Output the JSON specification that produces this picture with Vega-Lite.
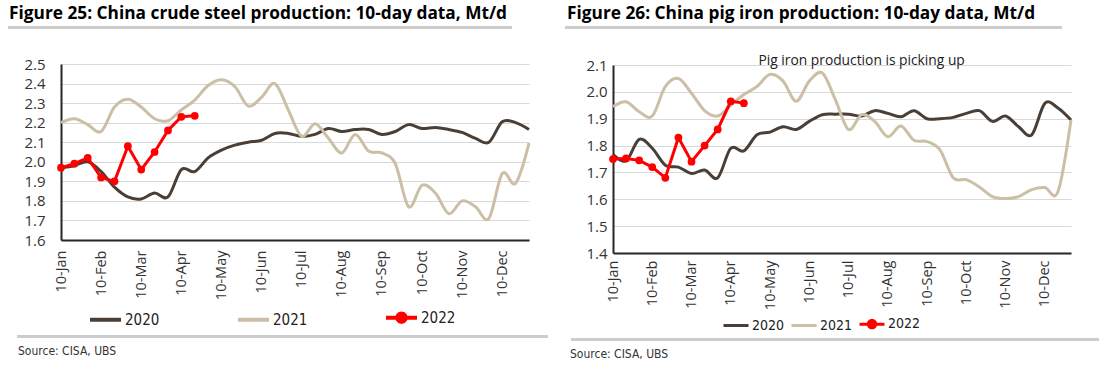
{
"$schema": "https://vega.github.io/schema/vega-lite/v6.json",
"background": "white",
"padding": {"left": 8, "top": 3, "right": 1, "bottom": 2},
"config": {
  "view": {"stroke": null},
  "font": "Open Sans",
  "axis": {"labelFont": "Open Sans", "labelColor": "#333333", "domainColor": "#262626", "domainWidth": 2, "ticks": false, "gridColor": "#d9d9d9", "gridWidth": 1, "title": null},
  "legend": {"layout": {"bottom": {"anchor": "middle"}}},
  "title": {"font": "Open Sans", "fontSize": 17.3, "fontWeight": "bold", "color": "#000000", "anchor": "start", "frame": "group"}
},
"datasets": {
"steel": [
{"period":"10-Jan","year":"2020","value":1.97},{"period":"20-Jan","year":"2020","value":1.98},{"period":"31-Jan","year":"2020","value":2.00},
{"period":"10-Feb","year":"2020","value":1.95},{"period":"20-Feb","year":"2020","value":1.87},{"period":"28-Feb","year":"2020","value":1.82},
{"period":"10-Mar","year":"2020","value":1.81},{"period":"20-Mar","year":"2020","value":1.84},{"period":"31-Mar","year":"2020","value":1.82},
{"period":"10-Apr","year":"2020","value":1.96},{"period":"20-Apr","year":"2020","value":1.95},{"period":"30-Apr","year":"2020","value":2.02},
{"period":"10-May","year":"2020","value":2.06},{"period":"20-May","year":"2020","value":2.085},{"period":"31-May","year":"2020","value":2.10},
{"period":"10-Jun","year":"2020","value":2.11},{"period":"20-Jun","year":"2020","value":2.145},{"period":"30-Jun","year":"2020","value":2.145},
{"period":"10-Jul","year":"2020","value":2.13},{"period":"20-Jul","year":"2020","value":2.14},{"period":"31-Jul","year":"2020","value":2.17},
{"period":"10-Aug","year":"2020","value":2.155},{"period":"20-Aug","year":"2020","value":2.165},{"period":"31-Aug","year":"2020","value":2.165},
{"period":"10-Sep","year":"2020","value":2.14},{"period":"20-Sep","year":"2020","value":2.155},{"period":"30-Sep","year":"2020","value":2.19},
{"period":"10-Oct","year":"2020","value":2.17},{"period":"20-Oct","year":"2020","value":2.175},{"period":"31-Oct","year":"2020","value":2.165},
{"period":"10-Nov","year":"2020","value":2.15},{"period":"20-Nov","year":"2020","value":2.12},{"period":"30-Nov","year":"2020","value":2.10},
{"period":"10-Dec","year":"2020","value":2.205},{"period":"20-Dec","year":"2020","value":2.20},{"period":"31-Dec","year":"2020","value":2.165},
{"period":"10-Jan","year":"2021","value":2.20},{"period":"20-Jan","year":"2021","value":2.22},{"period":"31-Jan","year":"2021","value":2.19},
{"period":"10-Feb","year":"2021","value":2.155},{"period":"20-Feb","year":"2021","value":2.28},{"period":"28-Feb","year":"2021","value":2.32},
{"period":"10-Mar","year":"2021","value":2.28},{"period":"20-Mar","year":"2021","value":2.22},{"period":"31-Mar","year":"2021","value":2.21},
{"period":"10-Apr","year":"2021","value":2.265},{"period":"20-Apr","year":"2021","value":2.315},{"period":"30-Apr","year":"2021","value":2.39},
{"period":"10-May","year":"2021","value":2.42},{"period":"20-May","year":"2021","value":2.385},{"period":"31-May","year":"2021","value":2.285},
{"period":"10-Jun","year":"2021","value":2.33},{"period":"20-Jun","year":"2021","value":2.40},{"period":"30-Jun","year":"2021","value":2.265},
{"period":"10-Jul","year":"2021","value":2.13},{"period":"20-Jul","year":"2021","value":2.195},{"period":"31-Jul","year":"2021","value":2.12},
{"period":"10-Aug","year":"2021","value":2.045},{"period":"20-Aug","year":"2021","value":2.14},{"period":"31-Aug","year":"2021","value":2.055},
{"period":"10-Sep","year":"2021","value":2.045},{"period":"20-Sep","year":"2021","value":1.99},{"period":"30-Sep","year":"2021","value":1.77},
{"period":"10-Oct","year":"2021","value":1.88},{"period":"20-Oct","year":"2021","value":1.84},{"period":"31-Oct","year":"2021","value":1.735},
{"period":"10-Nov","year":"2021","value":1.80},{"period":"20-Nov","year":"2021","value":1.77},{"period":"30-Nov","year":"2021","value":1.71},
{"period":"10-Dec","year":"2021","value":1.94},{"period":"20-Dec","year":"2021","value":1.89},{"period":"31-Dec","year":"2021","value":2.095},
{"period":"10-Jan","year":"2022","value":1.97},{"period":"20-Jan","year":"2022","value":1.99},{"period":"31-Jan","year":"2022","value":2.02},
{"period":"10-Feb","year":"2022","value":1.92},{"period":"20-Feb","year":"2022","value":1.90},{"period":"28-Feb","year":"2022","value":2.08},
{"period":"10-Mar","year":"2022","value":1.96},{"period":"20-Mar","year":"2022","value":2.05},{"period":"31-Mar","year":"2022","value":2.16},
{"period":"10-Apr","year":"2022","value":2.23},{"period":"20-Apr","year":"2022","value":2.235}
],
"pig": [
{"period":"10-Jan","year":"2020","value":1.768},{"period":"20-Jan","year":"2020","value":1.743},{"period":"31-Jan","year":"2020","value":1.823},
{"period":"10-Feb","year":"2020","value":1.79},{"period":"20-Feb","year":"2020","value":1.727},{"period":"28-Feb","year":"2020","value":1.72},
{"period":"10-Mar","year":"2020","value":1.696},{"period":"20-Mar","year":"2020","value":1.709},{"period":"31-Mar","year":"2020","value":1.68},
{"period":"10-Apr","year":"2020","value":1.79},{"period":"20-Apr","year":"2020","value":1.78},{"period":"30-Apr","year":"2020","value":1.84},
{"period":"10-May","year":"2020","value":1.85},{"period":"20-May","year":"2020","value":1.87},{"period":"31-May","year":"2020","value":1.86},
{"period":"10-Jun","year":"2020","value":1.89},{"period":"20-Jun","year":"2020","value":1.915},{"period":"30-Jun","year":"2020","value":1.917},
{"period":"10-Jul","year":"2020","value":1.917},{"period":"20-Jul","year":"2020","value":1.91},{"period":"31-Jul","year":"2020","value":1.93},
{"period":"10-Aug","year":"2020","value":1.92},{"period":"20-Aug","year":"2020","value":1.907},{"period":"31-Aug","year":"2020","value":1.93},
{"period":"10-Sep","year":"2020","value":1.90},{"period":"20-Sep","year":"2020","value":1.90},{"period":"30-Sep","year":"2020","value":1.905},
{"period":"10-Oct","year":"2020","value":1.92},{"period":"20-Oct","year":"2020","value":1.93},{"period":"31-Oct","year":"2020","value":1.89},
{"period":"10-Nov","year":"2020","value":1.91},{"period":"20-Nov","year":"2020","value":1.87},{"period":"30-Nov","year":"2020","value":1.84},
{"period":"10-Dec","year":"2020","value":1.957},{"period":"20-Dec","year":"2020","value":1.94},{"period":"31-Dec","year":"2020","value":1.895},
{"period":"10-Jan","year":"2021","value":1.945},{"period":"20-Jan","year":"2021","value":1.963},{"period":"31-Jan","year":"2021","value":1.926},
{"period":"10-Feb","year":"2021","value":1.91},{"period":"20-Feb","year":"2021","value":2.02},{"period":"28-Feb","year":"2021","value":2.05},
{"period":"10-Mar","year":"2021","value":1.995},{"period":"20-Mar","year":"2021","value":1.93},{"period":"31-Mar","year":"2021","value":1.91},
{"period":"10-Apr","year":"2021","value":1.95},{"period":"20-Apr","year":"2021","value":1.99},{"period":"30-Apr","year":"2021","value":2.02},
{"period":"10-May","year":"2021","value":2.065},{"period":"20-May","year":"2021","value":2.04},{"period":"31-May","year":"2021","value":1.965},
{"period":"10-Jun","year":"2021","value":2.04},{"period":"20-Jun","year":"2021","value":2.07},{"period":"30-Jun","year":"2021","value":1.97},
{"period":"10-Jul","year":"2021","value":1.86},{"period":"20-Jul","year":"2021","value":1.915},{"period":"31-Jul","year":"2021","value":1.89},
{"period":"10-Aug","year":"2021","value":1.833},{"period":"20-Aug","year":"2021","value":1.873},{"period":"31-Aug","year":"2021","value":1.82},
{"period":"10-Sep","year":"2021","value":1.815},{"period":"20-Sep","year":"2021","value":1.783},{"period":"30-Sep","year":"2021","value":1.68},
{"period":"10-Oct","year":"2021","value":1.673},{"period":"20-Oct","year":"2021","value":1.646},{"period":"31-Oct","year":"2021","value":1.61},
{"period":"10-Nov","year":"2021","value":1.603},{"period":"20-Nov","year":"2021","value":1.61},{"period":"30-Nov","year":"2021","value":1.636},
{"period":"10-Dec","year":"2021","value":1.644},{"period":"20-Dec","year":"2021","value":1.628},{"period":"31-Dec","year":"2021","value":1.895},
{"period":"10-Jan","year":"2022","value":1.75},{"period":"20-Jan","year":"2022","value":1.752},{"period":"31-Jan","year":"2022","value":1.745},
{"period":"10-Feb","year":"2022","value":1.72},{"period":"20-Feb","year":"2022","value":1.68},{"period":"28-Feb","year":"2022","value":1.83},
{"period":"10-Mar","year":"2022","value":1.74},{"period":"20-Mar","year":"2022","value":1.80},{"period":"31-Mar","year":"2022","value":1.86},
{"period":"10-Apr","year":"2022","value":1.965},{"period":"20-Apr","year":"2022","value":1.958}
],
"note": [{"period":"20-Jul","value":2.1,"note":"Pig iron production is picking up"}],
"none": []
},
"spacing": 17,
"resolve": {"scale": {"color": "independent"}, "legend": {"color": "independent"}},
"hconcat": [
{
 "spacing": 28,
 "resolve": {"scale": {"color": "independent"}, "legend": {"color": "independent"}},
 "vconcat": [
  {"width": 502, "height": 1, "data": {"name": "none"}, "mark": "point", "view": {"stroke": "#cccccc", "strokeWidth": 2},
   "title": {"text": "Figure 25: China crude steel production: 10-day data, Mt/d", "offset": 5}},
  {
   "spacing": 5,
   "resolve": {"scale": {"color": "independent"}, "legend": {"color": "independent"}},
   "vconcat": [
    {
     "spacing": 13,
     "hconcat": [
      {"width": 1, "height": 1, "data": {"name": "none"}, "mark": "point"},
      {
       "width": 468, "height": 176,
       "data": {"name": "steel"},
       "encoding": {
        "x": {"field": "period", "type": "ordinal",
          "scale": {"type": "point", "padding": 0, "domain": ["10-Jan","20-Jan","31-Jan","10-Feb","20-Feb","28-Feb","10-Mar","20-Mar","31-Mar","10-Apr","20-Apr","30-Apr","10-May","20-May","31-May","10-Jun","20-Jun","30-Jun","10-Jul","20-Jul","31-Jul","10-Aug","20-Aug","31-Aug","10-Sep","20-Sep","30-Sep","10-Oct","20-Oct","31-Oct","10-Nov","20-Nov","30-Nov","10-Dec","20-Dec","31-Dec"]},
          "axis": {"values": ["10-Jan","10-Feb","10-Mar","10-Apr","10-May","10-Jun","10-Jul","10-Aug","10-Sep","10-Oct","10-Nov","10-Dec"], "labelAngle": -90, "labelFontSize": 14.5, "labelPadding": 10, "grid": false}},
        "y": {"field": "value", "type": "quantitative",
          "scale": {"domain": [1.6, 2.5], "zero": false, "nice": false},
          "axis": {"values": [1.6,1.7,1.8,1.9,2.0,2.1,2.2,2.3,2.4,2.5], "format": ".1f", "labelFontSize": 15, "labelPadding": 16, "grid": true}},
        "color": {"field": "year", "type": "nominal",
          "scale": {"domain": ["2020","2021","2022"], "range": ["#4a3f36","#cbbfa5","#ff0000"]},
          "legend": {"orient": "bottom", "direction": "horizontal", "title": null, "offset": 0, "symbolSize": 961, "symbolStrokeWidth": 4, "labelFont": "DejaVu Sans Condensed, Roboto, sans-serif", "labelFontSize": 15, "labelColor": "#222222", "labelOffset": 2, "columnPadding": 70,
            "encode": {"symbols": {"update": {"shape": {"signal": "datum.value === '2022' ? 'M-1,0H1M0.27,0L0.234,0.135L0.135,0.234L0,0.27L-0.135,0.234L-0.234,0.135L-0.27,0L-0.234,-0.135L-0.135,-0.234L0,-0.27L0.135,-0.234L0.234,-0.135Z' : 'stroke'"}, "fill": {"signal": "datum.value === '2022' ? '#ff0000' : 'transparent'"}}}}}}
       },
       "layer": [
        {"transform": [{"filter": "datum.year != '2022'"}], "mark": {"type": "line", "interpolate": "cardinal", "strokeWidth": 3}},
        {"transform": [{"filter": "datum.year == '2022'"}], "mark": {"type": "line", "strokeWidth": 3, "point": {"filled": true, "size": 60}}}
       ]
      }
     ]
    },
    {
     "spacing": 7,
     "hconcat": [
      {"width": 1, "height": 1, "data": {"name": "none"}, "mark": "point"},
      {"width": 529, "height": 1, "data": {"name": "none"}, "mark": "point", "view": {"stroke": "#cccccc", "strokeWidth": 2},
       "title": {"text": "Source: CISA, UBS", "orient": "bottom", "font": "DejaVu Sans Condensed, Roboto, sans-serif", "fontSize": 12, "fontWeight": "normal", "color": "#333333", "offset": 9, "dx": 0}}
     ]
    }
   ]
  }
 ]
},
{
 "spacing": 25,
 "resolve": {"scale": {"color": "independent"}, "legend": {"color": "independent"}},
 "vconcat": [
  {"width": 495, "height": 1, "data": {"name": "none"}, "mark": "point", "view": {"stroke": "#cccccc", "strokeWidth": 2},
   "title": {"text": "Figure 26: China pig iron production: 10-day data, Mt/d", "offset": 5, "dx": 1}},
  {
   "spacing": 4,
   "resolve": {"scale": {"color": "independent"}, "legend": {"color": "independent"}},
   "vconcat": [
    {
     "spacing": 18,
     "hconcat": [
      {"width": 1, "height": 1, "data": {"name": "none"}, "mark": "point"},
      {
       "width": 458, "height": 188,
       "encoding": {
        "x": {"field": "period", "type": "ordinal",
          "scale": {"type": "point", "padding": 0, "domain": ["10-Jan","20-Jan","31-Jan","10-Feb","20-Feb","28-Feb","10-Mar","20-Mar","31-Mar","10-Apr","20-Apr","30-Apr","10-May","20-May","31-May","10-Jun","20-Jun","30-Jun","10-Jul","20-Jul","31-Jul","10-Aug","20-Aug","31-Aug","10-Sep","20-Sep","30-Sep","10-Oct","20-Oct","31-Oct","10-Nov","20-Nov","30-Nov","10-Dec","20-Dec","31-Dec"]},
          "axis": {"values": ["10-Jan","10-Feb","10-Mar","10-Apr","10-May","10-Jun","10-Jul","10-Aug","10-Sep","10-Oct","10-Nov","10-Dec"], "labelAngle": -90, "labelFontSize": 14.5, "labelPadding": 7, "grid": false}},
        "y": {"field": "value", "type": "quantitative",
          "scale": {"domain": [1.4, 2.1], "zero": false, "nice": false},
          "axis": {"values": [1.4,1.5,1.6,1.7,1.8,1.9,2.0,2.1], "format": ".1f", "labelFontSize": 15, "labelPadding": 6, "grid": true}}
       },
       "layer": [
        {"data": {"name": "pig"}, "transform": [{"filter": "datum.year != '2022'"}], "mark": {"type": "line", "interpolate": "cardinal", "strokeWidth": 3},
         "encoding": {
          "color": {"field": "year", "type": "nominal",
            "scale": {"domain": ["2020","2021","2022"], "range": ["#4a3f36","#cbbfa5","#ff0000"]},
            "legend": {"orient": "bottom", "direction": "horizontal", "title": null, "offset": 0, "symbolSize": 625, "symbolStrokeWidth": 3, "labelFont": "DejaVu Sans Condensed, Roboto, sans-serif", "labelFontSize": 14, "labelColor": "#222222", "labelOffset": 2, "columnPadding": 0,
              "encode": {"symbols": {"update": {"shape": {"signal": "datum.value === '2022' ? 'M-1,0H1M0.3,0L0.26,0.15L0.15,0.26L0,0.3L-0.15,0.26L-0.26,0.15L-0.3,0L-0.26,-0.15L-0.15,-0.26L0,-0.3L0.15,-0.26L0.26,-0.15Z' : 'stroke'"}, "fill": {"signal": "datum.value === '2022' ? '#ff0000' : 'transparent'"}}}}}}
         }},
        {"data": {"name": "pig"}, "transform": [{"filter": "datum.year == '2022'"}], "mark": {"type": "line", "strokeWidth": 3, "point": {"filled": true, "size": 60}},
         "encoding": {"color": {"field": "year", "type": "nominal"}}},
        {"data": {"name": "note"}, "mark": {"type": "text", "font": "Open Sans", "fontSize": 13.8, "color": "#222222", "align": "center", "baseline": "alphabetic"},
         "encoding": {"text": {"field": "note"}}}
       ]
      }
     ]
    },
    {
     "spacing": 2,
     "hconcat": [
      {"width": 1, "height": 1, "data": {"name": "none"}, "mark": "point"},
      {"width": 527, "height": 1, "data": {"name": "none"}, "mark": "point", "view": {"stroke": "#cccccc", "strokeWidth": 2},
       "title": {"text": "Source: CISA, UBS", "orient": "bottom", "font": "DejaVu Sans Condensed, Roboto, sans-serif", "fontSize": 12, "fontWeight": "normal", "color": "#333333", "offset": 9, "dx": -2}}
     ]
    }
   ]
  }
 ]
}
]
}
